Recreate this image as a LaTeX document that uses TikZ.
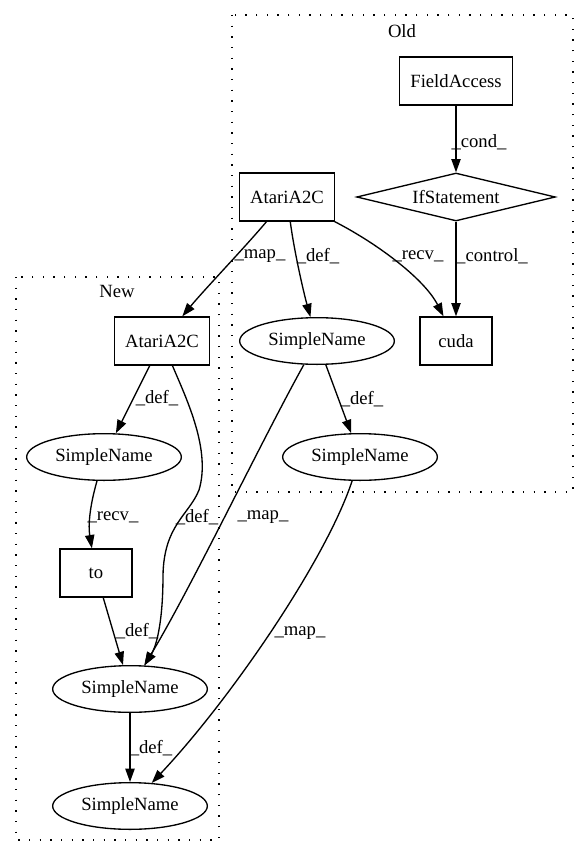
\documentclass[tikz,border=0pt]{standalone}
\usepackage{fontspec}
\setmainfont{Liberation Serif}
\usetikzlibrary{arrows.meta,shapes.geometric}
\tikzset{
  astFont/.style={font=\fontsize{14}{16}\selectfont},
  astBox/.style={astFont, draw, line width=1pt, rectangle, minimum width=54pt, minimum height=36pt, inner xsep=8pt, inner ysep=0pt},
  astEllipse/.style={astFont, draw, line width=1pt, ellipse, minimum width=116pt, minimum height=35pt, inner sep=0pt},
  astDiamond/.style={astFont, draw, line width=1pt, diamond, shape aspect=4.2, minimum width=149pt, minimum height=36pt, inner sep=0pt},
  astEdge/.style={line width=1pt, -{Triangle[length=10pt,width=7pt]}},
  astLabel/.style={astFont, inner sep=0pt},
  astCluster/.style={line width=1pt, dash pattern=on 1pt off 7pt}
}

\begin{document}
\begin{tikzpicture}[x=0.75pt, y=-0.75pt]
  \useasboundingbox (0,0) rectangle (581,856);

  % clusters
  \draw[astCluster] (232,15) rectangle (573,492);
  \node[astLabel] (oldLabel) at (402,31) {Old};
  \draw[astCluster] (16,277) rectangle (219,840);
  \node[astLabel] (newLabel) at (117,291) {New};

  % old
  \node[astBox] (fieldAccess) at (456,81) {FieldAccess};
  \node[astDiamond] (ifStmt) at (456,197) {IfStatement};
  \node[astBox] (atariOld) at (287,197) {AtariA2C};
  \node[astBox] (cudaOld) at (456,341) {cuda};
  \node[astEllipse] (nameOldA) at (317,341) {SimpleName};
  \node[astEllipse] (nameOldB) at (360,457) {SimpleName};

  % new
  \node[astBox] (atariNew) at (162,341) {AtariA2C};
  \node[astEllipse] (nameNewA) at (104,457) {SimpleName};
  \node[astBox] (toNew) at (96,573) {to};
  \node[astEllipse] (nameNewB) at (130,689) {SimpleName};
  \node[astEllipse] (nameNewC) at (130,806) {SimpleName};

  \draw[astEdge] (fieldAccess) -- (ifStmt);
  \draw[astEdge] (ifStmt) -- (cudaOld);
  \draw[astEdge] (atariOld) .. controls (247,245) and (204,290) .. (atariNew);
  \draw[astEdge] (atariOld) .. controls (294,250) and (303,290) .. (nameOldA);
  \draw[astEdge] (atariOld) .. controls (380,245) and (425,280) .. (cudaOld);
  \draw[astEdge] (nameOldA) -- (nameOldB);
  \draw[astEdge] (atariNew) -- (nameNewA);
  \draw[astEdge] (atariNew) .. controls (187,400) and (211,450) .. (199,490)
    .. controls (189,515) and (164,525) .. (163,575)
    .. controls (163,620) and (157,645) .. (nameNewB);
  \draw[astEdge] (nameNewA) .. controls (90,505) and (88,525) .. (toNew);
  \draw[astEdge] (toNew) -- (nameNewB);
  \draw[astEdge] (nameOldA) .. controls (262,440) and (190,590) .. (nameNewB);
  \draw[astEdge] (nameOldB) .. controls (326,560) and (230,700) .. (nameNewC);
  \draw[astEdge] (nameNewB) -- (nameNewC);

  % edge labels
  \node[astLabel] (lCond) at (479,142) {\_cond\_};
  \node[astLabel] (lMapA) at (260,256) {\_map\_};
  \node[astLabel] (lDefA) at (318,256) {\_def\_};
  \node[astLabel] (lRecvA) at (418,256) {\_recv\_};
  \node[astLabel] (lControl) at (492,256) {\_control\_};
  \node[astLabel] (lDefB) at (157,398) {\_def\_};
  \node[astLabel] (lDefC) at (362,399) {\_def\_};
  \node[astLabel] (lRecvB) at (113,517) {\_recv\_};
  \node[astLabel] (lDefD) at (197,517) {\_def\_};
  \node[astLabel] (lMapB) at (263,517) {\_map\_};
  \node[astLabel] (lDefE) at (137,631) {\_def\_};
  \node[astLabel] (lMapC) at (300,633) {\_map\_};
  \node[astLabel] (lDefF) at (151,748) {\_def\_};
\end{tikzpicture}
\end{document}
